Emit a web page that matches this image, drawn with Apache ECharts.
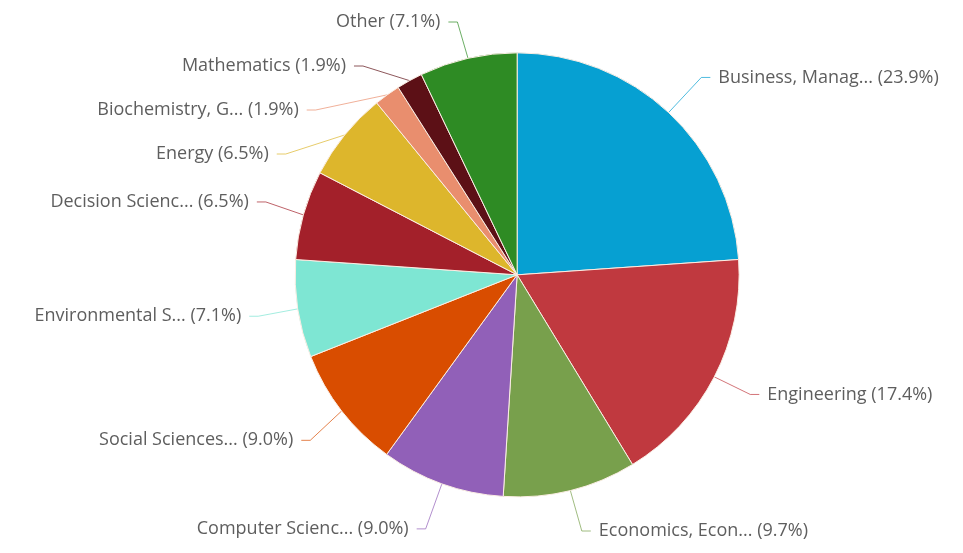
<!DOCTYPE html>
<html>
<head>
<meta charset="utf-8">
<script src="https://cdn.jsdelivr.net/npm/echarts@6/dist/echarts.min.js"></script>
<style>
  html, body { margin: 0; padding: 0; background: #ffffff; }
  #chart { width: 963px; height: 553px; }
</style>
</head>
<body>
<div id="chart"></div>
<script>
// Share of documents by subject area (percent)
const subjects = [
  'Business, Manag...',
  'Engineering',
  'Economics, Econ...',
  'Computer Scienc...',
  'Social Sciences...',
  'Environmental S...',
  'Decision Scienc...',
  'Energy',
  'Biochemistry, G...',
  'Mathematics',
  'Other'
];
const shares = [23.9, 17.4, 9.7, 9.0, 9.0, 7.1, 6.5, 6.5, 1.9, 1.9, 7.1];
const sliceColors = [
  '#06a0d2', '#c0393f', '#78a04c', '#9160b8', '#d94d00', '#7ee6d3',
  '#a3202a', '#ddb62c', '#e98e6e', '#5c1016', '#2e8b24'
];

const chart = echarts.init(document.getElementById('chart'), null, { renderer: 'canvas' });

const data = subjects.map((name, i) => ({
  name: name,
  value: shares[i],
  itemStyle: { color: sliceColors[i] },
  labelLine: { lineStyle: { color: sliceColors[i], opacity: 0.7 } }
}));

chart.setOption({
  animation: false,
  backgroundColor: '#ffffff',
  series: [{
    type: 'pie',
    center: ['53.7%', '49.7%'],
    radius: 222,
    startAngle: 90,
    clockwise: true,
    avoidLabelOverlap: true,
    minShowLabelAngle: 0,
    data: data,
    itemStyle: { borderColor: '#fbeee4', borderWidth: 1 },
    label: {
      show: true,
      formatter: p => p.name + ' (' + p.value.toFixed(1) + '%)',
      color: '#5e5e5e',
      fontFamily: 'Open Sans, Lato, sans-serif',
      fontSize: 18,
      lineHeight: 42,
      distanceToLabelLine: 8
    },
    labelLine: {
      show: true,
      length: 48,
      length2: 9,
      smooth: false,
      lineStyle: { width: 1 }
    }
  }]
});
</script>
</body>
</html>
